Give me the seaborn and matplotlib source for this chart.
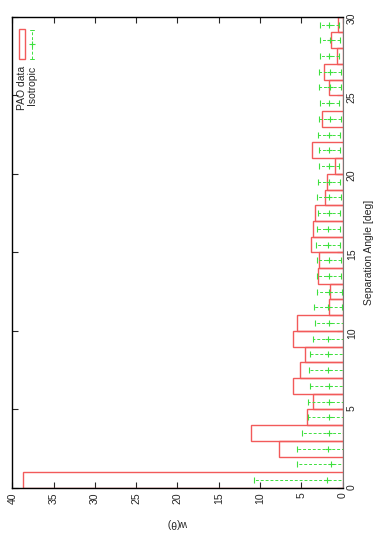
import numpy as np
import pandas as pd
import matplotlib
matplotlib.use('Agg')
import matplotlib.pyplot as plt
import seaborn as sns

# 数据: 每 1 度一个区间, 0-30 度
bin_edges = list(range(0, 31))
pao_w = [38.7, 0.0, 7.7, 11.05, 4.27, 3.55, 5.97, 5.16, 4.56, 6.05,
         5.56, 1.65, 1.53, 2.94, 2.86, 3.79, 3.55, 3.39, 2.1, 1.94,
         0.93, 3.67, 0.0, 2.54, 0.0, 1.6, 2.2, 0.73, 1.41, 0.52]
iso_w = [1.94, 1.41, 1.81, 1.7, 1.7, 1.7, 1.7, 1.73, 1.73, 1.73,
         1.6, 1.73, 1.6, 1.6, 1.6, 1.73, 1.73, 1.6, 1.6, 1.6,
         1.6, 1.6, 1.6, 1.53, 1.6, 1.53, 1.53, 1.6, 1.53, 1.6]
iso_err = [8.76, 4.15, 3.75, 3.18, 2.53, 2.45, 2.25, 2.3, 2.22, 1.9,
           1.75, 1.7, 1.55, 1.46, 1.46, 1.47, 1.4, 1.34, 1.46, 1.34,
           1.22, 1.26, 1.34, 1.3, 1.14, 1.3, 1.3, 1.14, 1.2, 1.14]

centers = [e + 0.5 for e in bin_edges[:-1]]
df = pd.DataFrame({'angle': centers, 'pao': pao_w, 'iso': iso_w, 'err': iso_err})

sns.set_style('ticks')
plt.rcParams['font.family'] = ['Liberation Sans', 'DejaVu Sans']
plt.rcParams['font.size'] = 7.5

red = '#f25a5a'
green = '#3ee03e'

fig = plt.figure(figsize=(3.74, 5.34), dpi=100)
ax = fig.add_axes([0.033, 0.0861, 0.883, 0.8826])

# PAO 直方图 (横向)
sns.histplot(data=df, y='angle', weights='pao', bins=bin_edges, element='bars',
             fill=False, color=red, linewidth=1.0, ax=ax)

# 各向同性 + 误差棒
eb = ax.errorbar(df['iso'], df['angle'], xerr=df['err'], fmt='+', color=green,
                 ecolor=green, elinewidth=0.7, capsize=2, markersize=5, mew=0.8)
eb[2][0].set_linestyle((0, (3, 2)))

ax.set_xlim(40, 0)
ax.set_ylim(0, 30)
ax.set_xticks(range(0, 41, 5))
ax.set_yticks(range(0, 31, 5))
ax.tick_params(axis='x', bottom=True, top=True, direction='in', labelrotation=90,
               length=4, width=0.8, pad=3)
ax.tick_params(axis='y', left=True, right=True, labelleft=False, labelright=True,
               direction='in', labelrotation=90, length=4, width=0.8, pad=3)
for s in ['left', 'top', 'bottom']:
    ax.spines[s].set_color('black')
    ax.spines[s].set_linewidth(1.0)
ax.spines['right'].set_color('#777777')

ax.yaxis.set_label_position('right')
ax.set_ylabel('Separation Angle [deg]', rotation=90, labelpad=5)
ax.set_xlabel('w(θ)', rotation=180, labelpad=10)

# 图例 (旋转)
ax.add_patch(plt.Rectangle((0.021, 0.910), 0.017, 0.064, transform=ax.transAxes,
                           fill=False, edgecolor=red, linewidth=1.0))
ax.plot([0.060, 0.060], [0.911, 0.972], transform=ax.transAxes, color=green,
        linestyle=(0, (3, 2)), linewidth=0.7)
ax.plot([0.053, 0.067], [0.911, 0.911], transform=ax.transAxes, color=green, linewidth=0.7)
ax.plot([0.053, 0.067], [0.972, 0.972], transform=ax.transAxes, color=green, linewidth=0.7)
ax.plot([0.060], [0.942], transform=ax.transAxes, marker='+', color=green,
        markersize=5, mew=0.8)
ax.text(0.029, 0.895, 'PAO data', transform=ax.transAxes, rotation=90,
        ha='center', va='top')
ax.text(0.060, 0.895, 'Isotropic', transform=ax.transAxes, rotation=90,
        ha='center', va='top')

fig.savefig('out.png', dpi=100)
